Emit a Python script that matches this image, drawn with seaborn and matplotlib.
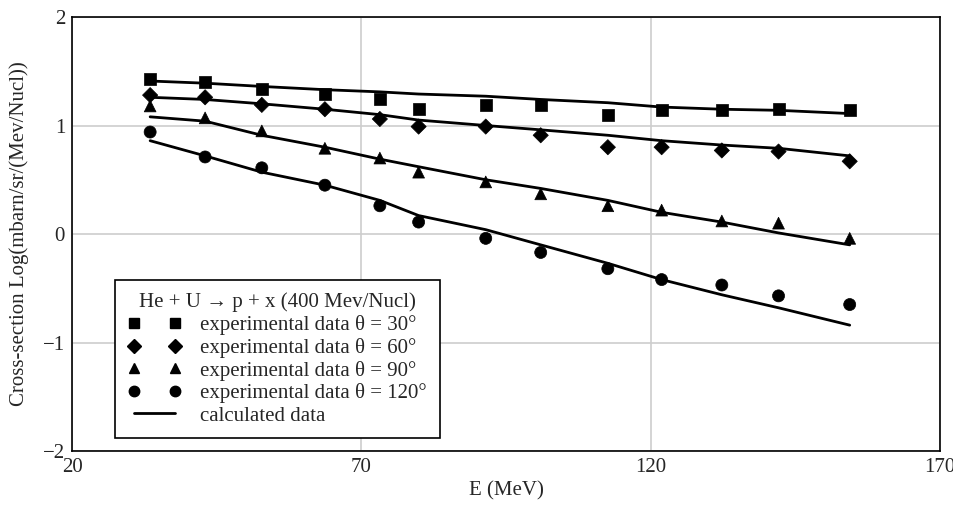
# He + U -> p + x cross-section plot
# values
import pandas as pd
import seaborn as sns
import matplotlib.pyplot as plt
from matplotlib.lines import Line2D

# energies (MeV) where data and calculated points sit
energy = [33.5, 43.0, 52.8, 63.7, 73.2, 79.9, 91.5, 101.0, 112.6, 121.9, 132.3, 142.1, 154.4]

# experimental data, log cross-section
exp_30 = [1.43, 1.40, 1.34, 1.29, 1.24, 1.15, 1.19, 1.19, 1.10, 1.14, 1.14, 1.15, 1.14]
exp_60 = [1.28, 1.26, 1.19, 1.15, 1.06, 0.99, 0.99, 0.91, 0.80, 0.80, 0.77, 0.76, 0.67]
exp_90 = [1.18, 1.07, 0.95, 0.79, 0.70, 0.57, 0.48, 0.37, 0.26, 0.22, 0.12, 0.10, -0.04]
exp_120 = [0.94, 0.71, 0.61, 0.45, 0.26, 0.11, -0.04, -0.17, -0.32, -0.42, -0.47, -0.57, -0.65]

# calculated data
calc_30 = [1.41, 1.39, 1.36, 1.33, 1.31, 1.29, 1.27, 1.24, 1.21, 1.17, 1.15, 1.14, 1.11]
calc_60 = [1.26, 1.24, 1.20, 1.15, 1.10, 1.05, 1.00, 0.96, 0.91, 0.86, 0.82, 0.79, 0.72]
calc_90 = [1.08, 1.04, 0.91, 0.80, 0.69, 0.62, 0.50, 0.42, 0.31, 0.20, 0.11, 0.01, -0.10]
calc_120 = [0.86, 0.72, 0.57, 0.45, 0.31, 0.17, 0.04, -0.10, -0.27, -0.42, -0.56, -0.68, -0.84]

angles = ['30', '60', '90', '120']
marker_for = {'30': 's', '60': 'D', '90': '^', '120': 'o'}
size_for = {'30': 75, '60': 60, '90': 72, '120': 75}

# long format tables for seaborn
exp_rows = []
calc_rows = []
for ang, ev, cv in zip(angles, [exp_30, exp_60, exp_90, exp_120],
                       [calc_30, calc_60, calc_90, calc_120]):
    for e, a, b in zip(energy, ev, cv):
        exp_rows.append({'E': e, 'val': a, 'angle': ang})
        calc_rows.append({'E': e, 'val': b, 'angle': ang})
exp_df = pd.DataFrame(exp_rows)
calc_df = pd.DataFrame(calc_rows)

sns.set_style('white')
plt.rcParams['font.family'] = ['Liberation Serif', 'DejaVu Serif']
plt.rcParams['axes.unicode_minus'] = True

fig = plt.figure(figsize=(9.54, 5.12), dpi=100)
ax = fig.add_axes([0.0755, 0.1191, 0.9098, 0.8477])

ax.grid(True, color='#cdcdcd', lw=1.2)
ax.set_axisbelow(True)

sns.lineplot(data=calc_df, x='E', y='val', units='angle', estimator=None,
             color='black', lw=2, ax=ax, legend=False)
sns.scatterplot(data=exp_df, x='E', y='val', style='angle', markers=marker_for,
                size='angle', sizes=size_for,
                color='black', edgecolor='black', linewidth=0.5,
                ax=ax, legend=False)

ax.set_xlim(20, 170)
ax.set_ylim(-2, 2)
ax.set_xticks([20, 70, 120, 170])
ax.set_yticks([-2, -1, 0, 1, 2])
ax.tick_params(length=0, labelsize=15, pad=5)
ax.set_xlabel('E (MeV)', fontsize=15, labelpad=3)
ax.set_ylabel('Cross-section Log(mbarn/sr/(Mev/Nucl))', fontsize=15, labelpad=10)
for sp in ax.spines.values():
    sp.set_color('black')
    sp.set_linewidth(1.2)

# legend with two markers per entry like the original
handles = []
labels = []
for ang in angles:
    handles.append(Line2D([0], [0], ls='none', marker=marker_for[ang], color='black',
                          markersize=7.5 if ang != '60' else 7))
    labels.append('experimental data \u03b8 = ' + ang + '\u00b0')
handles.append(Line2D([0], [0], color='black', lw=2))
labels.append('calculated data')

leg = ax.legend(handles, labels, title='He + U \u2192 p + x (400 Mev/Nucl)',
                loc='lower left', bbox_to_anchor=(0.0495, 0.03), borderaxespad=0,
                numpoints=2, fontsize=15, title_fontsize=15, fancybox=False,
                framealpha=1, edgecolor='black', handlelength=2.6,
                handletextpad=0.9, labelspacing=0.13, borderpad=0.6)
leg.get_frame().set_linewidth(1.2)

fig.savefig('out.png', dpi=100)
